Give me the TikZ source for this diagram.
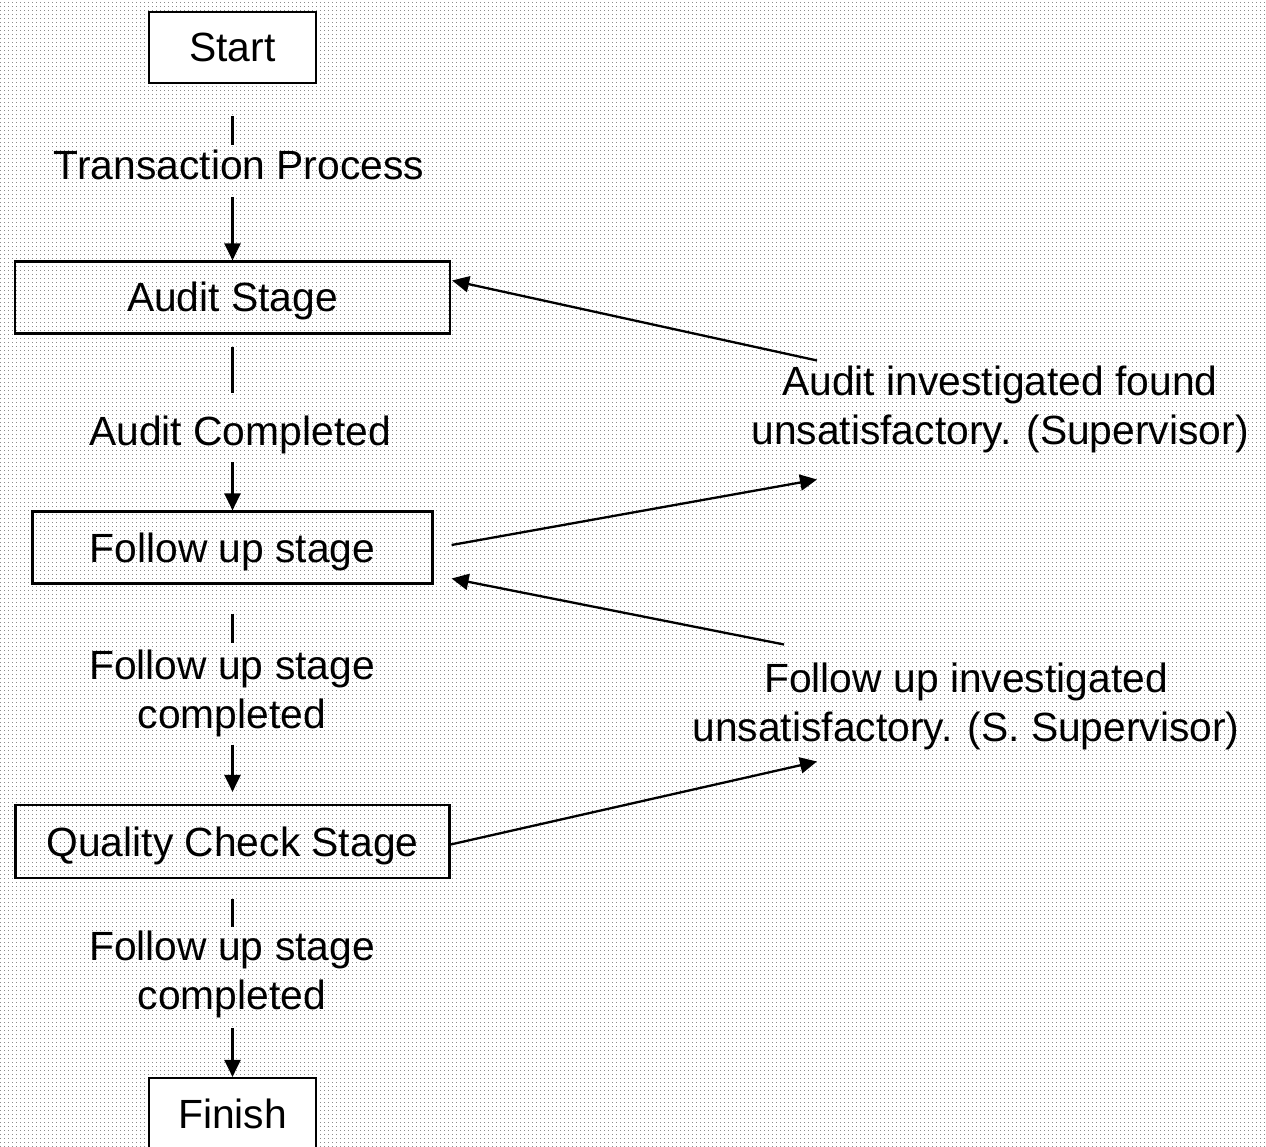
\documentclass[tikz,border=0pt]{standalone}
\usepackage{fontspec}
\setmainfont{Liberation Sans}
\usetikzlibrary{arrows.meta,patterns}
\pgfdeclarepatternformonly{griddots}{\pgfpoint{-1pt}{-1pt}}{\pgfpoint{2pt}{2pt}}{\pgfpoint{4pt}{4pt}}{%
  \pgfpathrectangle{\pgfpointorigin}{\pgfpoint{1pt}{1pt}}\pgfusepath{fill}}
\tikzset{
  every node/.style={font=\fontsize{40.8}{49}\selectfont, align=center},
  stagebox/.style={draw, line width=2.2pt, inner sep=0pt, text height=30pt, text depth=1pt},
  whitebox/.style={stagebox, fill=white},
  lbl/.style={inner sep=0pt, text depth=0pt},
  conn/.style={line width=2.3pt},
  arr/.style={line width=2.3pt, -{Triangle[length=17pt,width=16pt]}},
}
\begin{document}
\begin{tikzpicture}[x=1pt,y=-1pt]
\useasboundingbox (0,0) rectangle (1266,1147);
\fill[pattern=griddots, pattern color=black!45] (0,0) rectangle (1266,1147);

\node[whitebox, minimum width=167pt, minimum height=71pt] (start) at (232.5,47.5) {Start};
\node[stagebox, minimum width=435pt, minimum height=72pt] (audit) at (232.5,297.5) {Audit Stage};
\node[stagebox, minimum width=400pt, minimum height=72pt] (follow) at (232.5,547.5) {Follow up stage};
\node[stagebox, minimum width=434pt, minimum height=73pt] (qc) at (232.5,841.5) {Quality Check Stage};
\node[whitebox, minimum width=167pt, minimum height=71pt] (finish) at (232.5,1113.5) {Finish};

\node[lbl] (tp) at (239,165) {Transaction Process};
\node[lbl] (ac) at (240,431) {Audit Completed};
\node[lbl] (fu1) at (232,689.5) {Follow up stage\\completed};
\node[lbl] (fu2) at (232,970) {Follow up stage\\completed};
\node[lbl] (r1) at (1000,405.5) {Audit investigated found\\unsatisfactory. (Supervisor)};
\node[lbl] (r2) at (966,702.5) {Follow up investigated\\unsatisfactory. (S. Supervisor)};

\draw[conn] ([yshift=-32pt]start.south) -- ([yshift=20pt]start.south |- tp.center);
\draw[arr] ([yshift=-32pt]audit.north |- tp.center) -- (audit.north);

\draw[conn] ([yshift=-12pt]audit.south) -- ([yshift=38pt]audit.south |- ac.center);
\draw[arr] ([yshift=-31pt]follow.north |- ac.center) -- (follow.north);

\draw[conn] ([yshift=-29pt]follow.south) -- ([yshift=47pt]follow.south |- fu1.center);
\draw[arr] ([yshift=-55pt]qc.north |- fu1.center) -- ([yshift=12pt]qc.north);

\draw[conn] ([yshift=-20pt]qc.south) -- ([yshift=43pt]qc.south |- fu2.center);
\draw[arr] ([yshift=-58pt]finish.north |- fu2.center) -- (finish.north);

\draw[arr] ([shift={(-183pt,45pt)}]r1.center) -- ([shift={(1pt,17pt)}]audit.east);
\draw[arr] ([shift={(18pt,2.5pt)}]follow.east) -- ([shift={(-183pt,-74pt)}]r1.center);
\draw[arr] ([shift={(-182pt,58pt)}]r2.center) -- ([shift={(18pt,-31pt)}]follow.east);
\draw[arr] ([yshift=-3pt]qc.east) -- ([shift={(-149pt,-59pt)}]r2.center);
\end{tikzpicture}
\end{document}
